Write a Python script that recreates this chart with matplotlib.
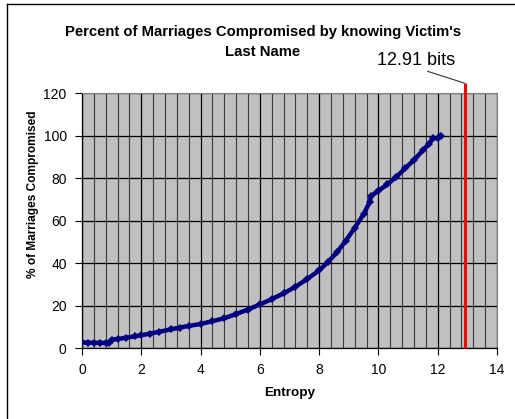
import matplotlib
matplotlib.use('Agg')
import matplotlib.pyplot as plt
from matplotlib.lines import Line2D
from matplotlib.ticker import MultipleLocator

# ---- data ----
entropy = [0.0, 0.2, 0.4, 0.6, 0.8, 0.9, 1.0, 1.2, 1.5, 1.8, 2.0, 2.3, 2.6, 3.0,
           3.3, 3.6, 4.0, 4.4, 4.8, 5.2, 5.6, 6.0, 6.4, 6.8, 7.2, 7.6, 8.0, 8.3,
           8.6, 8.9, 9.2, 9.5, 9.7, 9.75, 10.0, 10.3, 10.6, 10.9, 11.2, 11.5,
           11.7, 11.85, 12.0, 12.1]
pct_compromised = [2.6, 2.5, 2.5, 2.4, 2.4, 2.3, 4.0, 4.2, 4.9, 5.5, 6.0, 6.8,
                   7.6, 8.8, 9.6, 10.4, 11.3, 12.6, 14.0, 16.0, 18.1, 20.5, 23.0,
                   25.7, 28.8, 32.5, 36.5, 40.5, 45.0, 50.5, 56.5, 63.0, 68.5,
                   71.5, 74.0, 77.0, 80.5, 84.5, 88.5, 93.0, 96.0, 98.8, 98.6, 100.0]
threshold_bits = 12.91
threshold_label = "12.91 bits"
x_ticks = [0, 2, 4, 6, 8, 10, 12, 14]
y_ticks = [0, 20, 40, 60, 80, 100, 120]
title_lines = ["Percent of Marriages Compromised by knowing Victim's", "Last Name"]
x_label = "Entropy"
y_label = "% of Marriages Compromised"

plt.rcParams['font.family'] = ['Liberation Sans', 'DejaVu Sans']

W, H = 515, 419
fig = plt.figure(figsize=(W / 100, H / 100), dpi=100)
fig.patch.set_facecolor('white')

ax = fig.add_axes([82 / W, 1 - 348 / H, (497 - 82) / W, (348 - 93) / H])
ax.set_facecolor('#C0C0C0')
ax.set_xlim(x_ticks[0], x_ticks[-1])
ax.set_ylim(y_ticks[0], y_ticks[-1])
ax.set_xticks(x_ticks)
ax.set_yticks(y_ticks)
ax.xaxis.set_minor_locator(MultipleLocator(0.4))
ax.set_axisbelow(True)
ax.grid(which='major', axis='both', color='black', lw=0.9)
ax.grid(which='minor', axis='x', color='#3a3a3a', lw=0.8)
ax.tick_params(which='minor', length=0)
ax.tick_params(which='major', length=5, width=0.8, direction='out',
               labelsize=10, color='black', pad=6)
for s in ['top', 'right']:
    ax.spines[s].set_color('#808080')
    ax.spines[s].set_linewidth(0.8)
for s in ['left', 'bottom']:
    ax.spines[s].set_color('black')
    ax.spines[s].set_linewidth(0.9)

ax.plot(entropy, pct_compromised, color='#000080', lw=3.2, marker='D',
        markersize=3.8, markeredgewidth=0, zorder=3)

top_val = 124.6
ax.plot([threshold_bits, threshold_bits], [0, top_val], color='#FF0000',
        lw=2.2, clip_on=False, zorder=4, solid_capstyle='butt')
ax.annotate(threshold_label, xy=(threshold_bits, top_val), xycoords='data',
            xytext=(416.5, H - 60), textcoords='figure pixels',
            ha='center', va='center', fontsize=13, annotation_clip=False,
            arrowprops=dict(arrowstyle='-', color='#333333', lw=0.8,
                            shrinkA=0, shrinkB=0, relpos=(0.53, 0.0)))

fig.text(263 / W, 1 - 32 / H, title_lines[0], ha='center', va='center',
         fontsize=10.7, fontweight='bold')
fig.text(263 / W, 1 - 51.5 / H, title_lines[1], ha='center', va='center',
         fontsize=10.7, fontweight='bold')
fig.text(290 / W, 1 - 393 / H, x_label, ha='center', va='center',
         fontsize=9.7, fontweight='bold')
fig.text(33 / W, 1 - 194 / H, y_label, ha='center', va='center',
         fontsize=8.6, fontweight='bold', rotation=90)

# chart-area border (top and left edges visible in the reference)
fig.add_artist(Line2D([7 / W, 7 / W], [0, 1 - 4 / H], transform=fig.transFigure,
                      color='black', lw=1.0))
fig.add_artist(Line2D([7 / W, 1], [1 - 4 / H, 1 - 4 / H], transform=fig.transFigure,
                      color='black', lw=1.0))

fig.savefig('out.png', dpi=100)
